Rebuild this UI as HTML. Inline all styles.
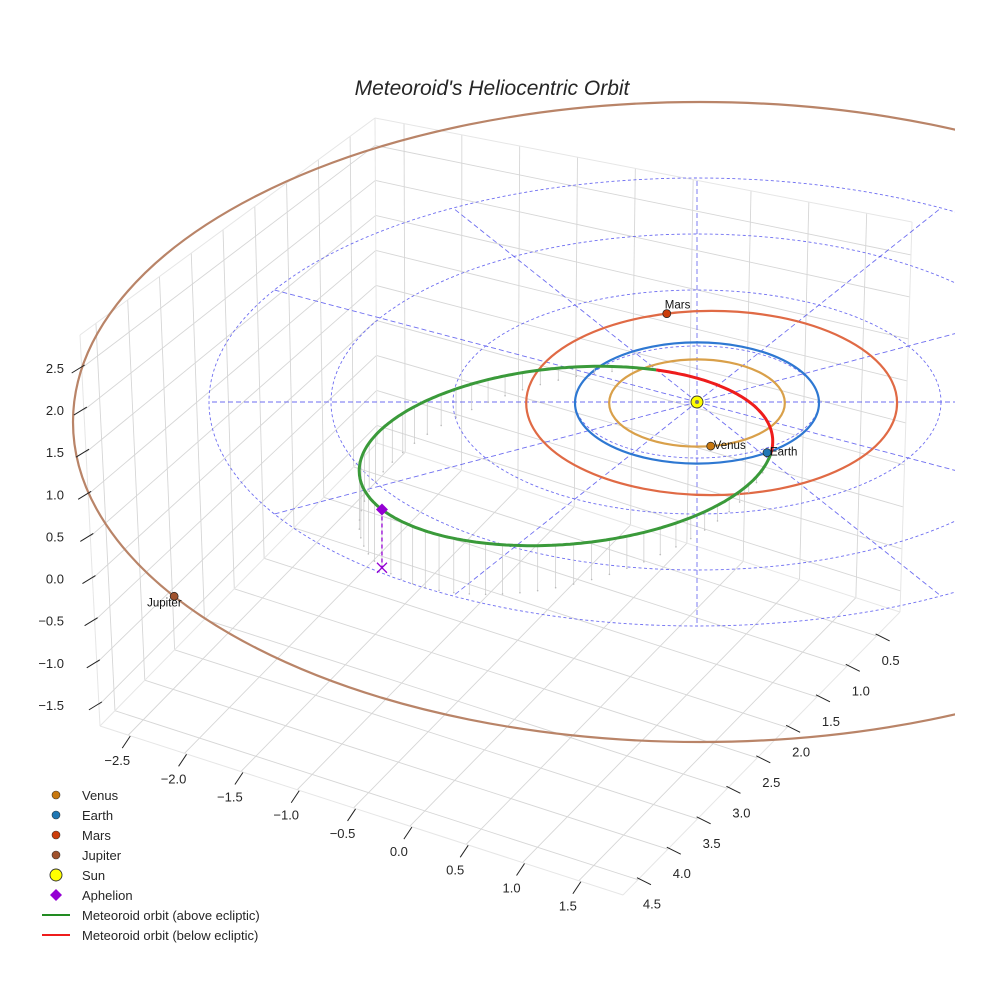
<!DOCTYPE html>
<html><head><meta charset="utf-8"><style>
html,body{margin:0;padding:0;background:#fff;}
svg{display:block;font-family:"Liberation Sans",sans-serif;}
</style></head><body>
<svg id="chart" width="984" height="984" viewBox="0 0 984 984" xmlns="http://www.w3.org/2000/svg">
<defs><clipPath id="clip"><rect x="0" y="0" width="955" height="984"/></clipPath></defs>
<text x="492" y="95" text-anchor="middle" font-size="21" font-style="italic" fill="#262626">Meteoroid's Heliocentric Orbit</text>
<g id="panes"></g>
<g id="plot" clip-path="url(#clip)"></g>
<g id="axes"></g>
<g id="legend"></g>
</svg>
<script>
// ---- data ----
const xTicks = ["−2.5","−2.0","−1.5","−1.0","−0.5","0.0","0.5","1.0","1.5"];
const yTicks = ["4.5","4.0","3.5","3.0","2.5","2.0","1.5","1.0","0.5"];
const zTicks = ["−1.5","−1.0","−0.5","0.0","0.5","1.0","1.5","2.0","2.5"];
const planetNames = ["Venus","Earth","Mars"];
const planetRadii = [0.72, 1.0, 1.52];
const planetCenterShift = [0, 0, 0.12];
const planetAngles = [-81, -55, 104];
const planetColors = ["#c8780f","#1f77b4","#cc3d0a"];
const orbitColors = ["#d9a04a","#2e78d2","#e06a45"];
const jupiterRadius = [5.2];
const jupiterAngle = [213];
const gridRadii = [1, 2, 3, 4];
const gridSpokes = [0,30,60,90,120,150,180,210,240,270,300,330];
const meteorCenter = [-1.074, -0.9];
const meteorAxes = [1.70, 1.47];
const meteorTilt = [-5];
const meteorNodes = [-62, 10];
const aphelionT = [155];
const aphelionZ = [0.56];

const NS = "http://www.w3.org/2000/svg";
function el(tag, attrs, parent){const e=document.createElementNS(NS,tag);for(const k in attrs)e.setAttribute(k,attrs[k]);parent.appendChild(e);return e;}
const SUN=[697,402], SX=122, SY=60, SZ=104, GY=56;
function proj(u,v,z){return [SUN[0]+SX*u, SUN[1]-SY*v-SZ*z];}
const panes=document.getElementById('panes'), plot=document.getElementById('plot'), axes=document.getElementById('axes'), legend=document.getElementById('legend');

const L=[100,726],F=[623,895],R=[900,612],B=[377,443],Lt=[80,335],Bt=[375,118],Rt=[912,222];
const tk=k=>0.054+k*0.1077;
function lerp(a,b,t){return [a[0]+(b[0]-a[0])*t,a[1]+(b[1]-a[1])*t];}
function bil(p00,p10,p01,p11,a,b){return lerp(lerp(p00,p10,a),lerp(p01,p11,a),b);}
function line(p,q,attrs,parent){return el('line',Object.assign({x1:p[0],y1:p[1],x2:q[0],y2:q[1]},attrs),parent);}
const gs={stroke:"#d6d6d6","stroke-width":0.9};
const floorP=(tx,ty)=>[L[0]+tx*(F[0]-L[0])+ty*(R[0]-F[0]), L[1]+tx*(F[1]-L[1])+ty*(R[1]-F[1])];
for(let k=0;k<9;k++){
  let g=line(floorP(tk(k),0),floorP(tk(k),1),gs,panes);
  
  
  g=line(floorP(0,tk(k)),floorP(1,tk(k)),gs,panes);
  
  
  g=line(bil(L,B,Lt,Bt,tk(k),0),bil(L,B,Lt,Bt,tk(k),1),gs,panes);
  
  
  g=line(bil(L,B,Lt,Bt,0,tk(k)),bil(L,B,Lt,Bt,1,tk(k)),gs,panes);
  
  
  g=line(bil(B,R,Bt,Rt,tk(k),0),bil(B,R,Bt,Rt,tk(k),1),gs,panes);
  
  
  g=line(bil(B,R,Bt,Rt,0,tk(k)),bil(B,R,Bt,Rt,1,tk(k)),gs,panes);
  
  
}
const es={stroke:"#e6e6e6","stroke-width":1};
[[L,B],[B,R],[B,Bt],[L,Lt],[R,Rt],[Lt,Bt],[Bt,Rt],[L,F],[F,R]].forEach(e=>{
  const g=line(e[0],e[1],es,panes);
  
  
});
for(let k=0;k<9;k++){
  const px=lerp(L,F,tk(k));
  let t=line([px[0]+2,px[1]+1],[px[0]-6,px[1]+13],{stroke:"#222","stroke-width":1},axes);
  
  
  let tx=el('text',{x:px[0]-11,y:px[1]+30,"text-anchor":"middle","font-size":13,fill:"#262626"},axes);tx.textContent=xTicks[k];
  
  
  const py=lerp(F,R,tk(k));
  t=line([py[0]-1,py[1]-2],[py[0]+13,py[1]+5],{stroke:"#222","stroke-width":1},axes);
  
  
  tx=el('text',{x:py[0]+14,y:py[1]+29,"text-anchor":"middle","font-size":13,fill:"#262626"},axes);tx.textContent=yTicks[k];
  
  
  const pz=lerp(L,Lt,tk(k));
  t=line([pz[0]+3,pz[1]-3],[pz[0]-10,pz[1]+5],{stroke:"#222","stroke-width":1},axes);
  
  
  tx=el('text',{x:64,y:pz[1]+5,"text-anchor":"end","font-size":13,fill:"#262626"},axes);tx.textContent=zTicks[k];
  
  
}
gridRadii.forEach(r=>{
  const c=el('ellipse',{cx:SUN[0],cy:SUN[1],rx:SX*r,ry:GY*r,fill:"none",stroke:"#5555ee","stroke-width":0.9,"stroke-dasharray":"3,2.5",opacity:0.85},plot);
  
  
});
gridSpokes.forEach(a=>{
  const ra=a*Math.PI/180, r=gridRadii[gridRadii.length-1];
  const s=el('line',{x1:SUN[0],y1:SUN[1],x2:SUN[0]+SX*r*Math.cos(ra),y2:SUN[1]-GY*r*Math.sin(ra),stroke:"#5555ee","stroke-width":0.9,"stroke-dasharray":"5,3",opacity:0.85},plot);
  
  
});
planetRadii.forEach((r,i)=>{
  const o=el('ellipse',{cx:SUN[0]+SX*planetCenterShift[i],cy:SUN[1]+1,rx:SX*r,ry:SY*r*1.01,fill:"none",stroke:orbitColors[i],"stroke-width":2.2},plot);
  
  
});
const JC=[700,422], JRX=627/5.2, JRY=320/5.2;
const jo=el('ellipse',{cx:JC[0],cy:JC[1],rx:JRX*jupiterRadius[0],ry:JRY*jupiterRadius[0],fill:"none",stroke:"#b98468","stroke-width":2.2},plot);



const phi=meteorTilt[0]*Math.PI/180;
function meteorPt(tdeg){
  const t=tdeg*Math.PI/180;
  const a=meteorAxes[0]*SX, b=meteorAxes[1]*SY;
  const u=meteorCenter[0]+(a*Math.cos(t)*Math.cos(phi)-b*Math.sin(t)*Math.sin(phi))/SX;
  const v=meteorCenter[1]-(a*Math.cos(t)*Math.sin(phi)+b*Math.sin(t)*Math.cos(phi))/SY;
  return proj(u,v,0);
}
const n1=meteorPt(meteorNodes[0]), n2=meteorPt(meteorNodes[1]), ap=meteorPt(aphelionT[0]);
function sideF(p){return (p[0]-n1[0])*(n2[1]-n1[1])-(p[1]-n1[1])*(n2[0]-n1[0]);}
const fAp=sideF(ap);
function zOf(p){return aphelionZ[0]*sideF(p)/fAp;}
for(let t=meteorNodes[1]+5;t<meteorNodes[0]+360;t+=5){
  const p=meteorPt(t), z=zOf(p); if(z<=0.03) continue;
  const d=line(p,[p[0],p[1]+SZ*z],{stroke:"#cfcfcf","stroke-width":0.8},plot);
  
  
  const c=el('circle',{cx:p[0],cy:p[1]+SZ*z,r:0.8,fill:"#bbb"},plot);
  
  
}
function arcPath(t0,t1){let d="";for(let t=t0;t<=t1+1e-6;t+=1){const p=meteorPt(t);d+=(d?"L":"M")+p[0].toFixed(1)+","+p[1].toFixed(1);}return d;}
const gp=el('path',{d:arcPath(meteorNodes[1],meteorNodes[0]+360),fill:"none",stroke:"#3a9a3a","stroke-width":3},plot);


const rp=el('path',{d:arcPath(meteorNodes[0],meteorNodes[1]),fill:"none",stroke:"#ee1c1c","stroke-width":3},plot);


const apG=[ap[0],ap[1]+SZ*zOf(ap)];
const al=line(ap,apG,{stroke:"#9400d3","stroke-width":1.3,"stroke-dasharray":"4,3"},plot);


const ax=el('path',{d:`M${apG[0]-5},${apG[1]-5}L${apG[0]+5},${apG[1]+5}M${apG[0]-5},${apG[1]+5}L${apG[0]+5},${apG[1]-5}`,stroke:"#9400d3","stroke-width":1.3},plot);


const ad=el('path',{d:`M${ap[0]},${ap[1]-6}L${ap[0]+6},${ap[1]}L${ap[0]},${ap[1]+6}L${ap[0]-6},${ap[1]}Z`,fill:"#9400d3"},plot);


planetRadii.forEach((r,i)=>{
  const a=planetAngles[i]*Math.PI/180;
  const p=[SUN[0]+SX*planetCenterShift[i]+SX*r*Math.cos(a),SUN[1]+1-SY*r*1.01*Math.sin(a)];
  const c=el('circle',{cx:p[0],cy:p[1],r:4,fill:planetColors[i],stroke:"#222","stroke-width":0.7},plot);
  
  
  const t=el('text',{x:i==2?p[0]-2:p[0]+3,y:i==2?p[1]-5:p[1]+3,"font-size":11.5,fill:"#111"},plot);t.textContent=planetNames[i];
  
  
});
{
  const a=jupiterAngle[0]*Math.PI/180;
  const p=[JC[0]+JRX*jupiterRadius[0]*Math.cos(a),JC[1]-JRY*jupiterRadius[0]*Math.sin(a)];
  const c=el('circle',{cx:p[0],cy:p[1],r:4,fill:"#a0522d",stroke:"#222","stroke-width":0.7},plot);
  
  
  const t=el('text',{x:p[0]-27,y:p[1]+10,"font-size":11.5,fill:"#111"},plot);t.textContent="Jupiter";
  
  
}
const sun=el('circle',{cx:SUN[0],cy:SUN[1],r:6,fill:"#ffff00",stroke:"#333","stroke-width":0.9},plot);


const sunc=el('circle',{cx:SUN[0],cy:SUN[1],r:2,fill:"#777"},plot);



const legendLabels=["Venus","Earth","Mars","Jupiter","Sun","Aphelion","Meteoroid orbit (above ecliptic)","Meteoroid orbit (below ecliptic)"];
const legendColors=["#c8780f","#1f77b4","#cc3d0a","#a0522d","#ffff00","#9400d3","#228b22","#ee1c1c"];
legendLabels.forEach((lab,i)=>{
  const y=795+i*20, x=56;
  let m;
  if(i<4) m=el('circle',{cx:x,cy:y,r:4,fill:legendColors[i],stroke:"#333","stroke-width":0.6},legend);
  else if(i==4) m=el('circle',{cx:x,cy:y,r:6,fill:legendColors[i],stroke:"#333","stroke-width":0.9},legend);
  else if(i==5) m=el('path',{d:`M${x},${y-6}L${x+6},${y}L${x},${y+6}L${x-6},${y}Z`,fill:legendColors[i]},legend);
  else m=line([x-14,y],[x+14,y],{stroke:legendColors[i],"stroke-width":2},legend);
  
  
  const t=el('text',{x:82,y:y+5,"font-size":13,fill:"#262626"},legend);t.textContent=lab;
  
  
});
</script>
</body></html>
